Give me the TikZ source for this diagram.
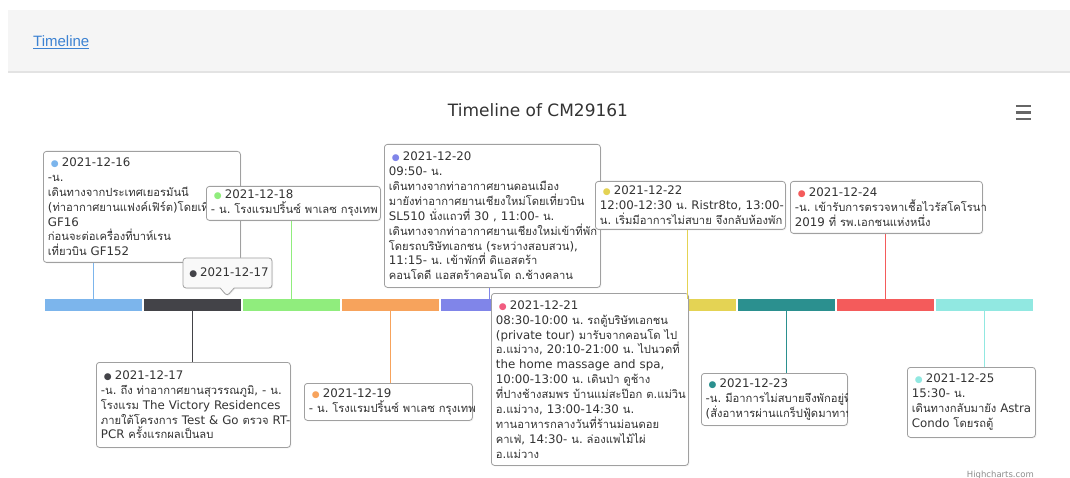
\documentclass[tikz,border=0pt]{standalone}
\usepackage{fontspec}
\usetikzlibrary{shapes.callouts,shadows}
\setmainfont{DejaVu Sans}
\newfontfamily\latinfont{DejaVu Sans}
\newfontfamily\thaifont[Script=Thai,Scale=0.95]{Loma}
\newfontfamily\pagefont{Liberation Sans}

% switch to the Thai font automatically for runs of Thai characters
\XeTeXinterchartokenstate=1
\newXeTeXintercharclass\thaiclass
\newcount\thaicode
\thaicode="0E00
\loop
  \XeTeXcharclass\thaicode=\thaiclass
\ifnum\thaicode<"0E7F
  \advance\thaicode by 1
\repeat
\XeTeXinterchartoks 0 \thaiclass = {\thaifont}
\XeTeXinterchartoks 4095 \thaiclass = {\thaifont}
\XeTeXinterchartoks \thaiclass 0 = {\latinfont}
\XeTeXinterchartoks \thaiclass 4095 = {\latinfont}

\definecolor{c1}{HTML}{7CB5EC}
\definecolor{c2}{HTML}{434348}
\definecolor{c3}{HTML}{90ED7D}
\definecolor{c4}{HTML}{F7A35C}
\definecolor{c5}{HTML}{8085E9}
\definecolor{c6}{HTML}{F15C80}
\definecolor{c7}{HTML}{E4D354}
\definecolor{c8}{HTML}{2B908F}
\definecolor{c9}{HTML}{F45B5B}
\definecolor{c10}{HTML}{91E8E1}
\definecolor{ink}{HTML}{333333}
\definecolor{headbg}{HTML}{F5F5F5}
\definecolor{headrule}{HTML}{E3E3E3}
\definecolor{linkblue}{HTML}{3C82D2}
\definecolor{framegray}{HTML}{A0A0A0}
\definecolor{tipbg}{HTML}{F9F9F9}

% coloured bullet before each date
\newcommand\pdot[1]{\hspace*{3pt}{\latinfont\fontsize{9}{9}\selectfont\textcolor{#1}{●}}\hspace{3pt}}

\tikzset{
  segbar/.style={fill=#1, draw=none, inner sep=0pt, minimum height=12pt,
    minimum width=97pt, anchor=north west},
  link/.style={draw=#1, line width=1pt},
  boxtext/.style={anchor=north west, inner xsep=4.5pt, inner ysep=0pt,
    align=left, text=ink,
    font=\latinfont\fontsize{11.8}{14.9}\selectfont,
    execute at begin node=\frenchspacing},
  box/.style={boxtext, draw=framegray, fill=white, rounded corners=3pt,
    line width=0.8pt,
    drop shadow={shadow xshift=1pt, shadow yshift=-1pt, opacity=0.12}},
  menubar/.style={line width=2.2pt, draw=black!60},
}

\begin{document}
\begin{tikzpicture}[x=1pt,y=-1pt]
\useasboundingbox (0,0) rectangle (1070,478);
\fill[white] (0,0) rectangle (1070,478);

% page header
\fill[headbg] (8,10) rectangle (1070,72);
\draw[headrule, line width=1.5pt] (8,72) -- (1070,72);
\node[anchor=base west, inner sep=0pt, text=linkblue,
  font=\pagefont\fontsize{15}{18}\selectfont] (navlink) at (33,47) {\underline{Timeline}};

% chart title and menu
\node[text=ink, font=\latinfont\fontsize{17}{20}\selectfont] (title) at (538,110) {Timeline of CM29161};
\node[minimum width=15pt, minimum height=12pt, inner sep=0pt] (menu) at (1023.5,112.5) {};
\draw[menubar] (menu.north west) -- (menu.north east);
\draw[menubar] (menu.west) -- (menu.east);
\draw[menubar] (menu.south west) -- (menu.south east);

% timeline bar
\foreach \i in {1,...,10}
  \node[segbar=c\i] (s\i) at ({45+(\i-1)*99},299) {};

% labels above the bar
\node[box, text width=188pt, minimum height=111pt] (d16) at (43,151) {%
\pdot{c1}2021-12-16\\
-น.\\
เดินทางจากประเทศเยอรมันนี\\
(ท่าอากาศยานแฟงค์เฟิร์ต)โดยเที่ยวบิน\\
GF16\\
ก่อนจะต่อเครื่องที่บาห์เรน\\
\mbox{เที่ยวบิน GF152}};

\node[box, text width=165pt, minimum height=34pt] (d18) at (206,186) {%
\pdot{c3}2021-12-18\\
\mbox{- น. โรงแรมปริ้นซ์ พาเลซ กรุงเทพ}};

\node[box, text width=207pt, minimum height=143pt] (d20) at (384,144) {%
\pdot{c5}2021-12-20\\
\mbox{09:50- น.}\\
เดินทางจากท่าอากาศยานดอนเมือง\\
มายังท่าอากาศยานเชียงใหม่โดยเที่ยวบิน\\
\mbox{SL510 นั่งแถวที่ 30 , 11:00- น.}\\
เดินทางจากท่าอากาศยานเชียงใหม่เข้าที่พัก\\
\mbox{โดยรถบริษัทเอกชน (ระหว่างสอบสวน),}\\
\mbox{11:15- น. เข้าพักที่ ดิแอสตร้า}\\
\mbox{คอนโดดี แอสตร้าคอนโด ถ.ช้างคลาน}};

\node[box, text width=181pt, minimum height=48pt] (d22) at (595,181) {%
\pdot{c7}2021-12-22\\
\mbox{12:00-12:30 น. Ristr8to, 13:00-}\\
\mbox{น. เริ่มมีอาการไม่สบาย จึงกลับห้องพัก}};

\node[box, text width=183pt, minimum height=52pt] (d24) at (790,181) {%
\pdot{c9}2021-12-24\\
\mbox{-น. เข้ารับการตรวจหาเชื้อไวรัสโคโรนา}\\
\mbox{2019 ที่ รพ.เอกชนแห่งหนึ่ง}};

% labels below the bar
\node[box, text width=185pt, minimum height=85pt] (d17) at (96,362) {%
\pdot{c2}2021-12-17\\
\mbox{-น. ถึง ท่าอากาศยานสุวรรณภูมิ, - น.}\\
\mbox{โรงแรม The Victory Residences}\\
\mbox{ภายใต้โครงการ Test \& Go ตรวจ RT-}\\
\mbox{PCR ครั้งแรกผลเป็นลบ}};

\node[box, text width=159pt, minimum height=37pt] (d19) at (304,383) {%
\pdot{c4}2021-12-19\\
\mbox{- น. โรงแรมปริ้นซ์ พาเลซ กรุงเทพ}};

\node[box, text width=188pt, minimum height=172pt] (d21) at (491,293) {%
\pdot{c6}2021-12-21\\
\mbox{08:30-10:00 น. รถตู้บริษัทเอกชน}\\
\mbox{(private tour) มารับจากคอนโด ไป}\\
\mbox{อ.แม่วาง, 20:10-21:00 น. ไปนวดที่}\\
\mbox{the home massage and spa,}\\
\mbox{10:00-13:00 น. เดินป่า ดูช้าง}\\
\mbox{ที่ปางช้างสมพร บ้านแม่สะป๊อก ต.แม่วิน}\\
\mbox{อ.แม่วาง, 13:00-14:30 น.}\\
ทานอาหารกลางวันที่ร้านม่อนดอย\\
\mbox{คาเฟ่, 14:30- น. ล่องแพไม้ไผ่}\\
อ.แม่วาง};

\node[box, minimum width=146pt, minimum height=52pt] (d23) at (701,373) {};
\begin{scope}
  \clip[rounded corners=3pt] (d23.north west) rectangle (d23.south east);
  \node[boxtext, text width=137pt, minimum height=52pt] (t23) at (d23.north west) {%
\pdot{c8}2021-12-23\\
\mbox{-น. มีอาการไม่สบายจึงพักอยู่ที่พัก}\\
\mbox{(สั่งอาหารผ่านแกร็ปฟู้ดมาทาน)}};
\end{scope}

\node[box, text width=119pt, minimum height=70pt] (d25) at (907,367) {%
\pdot{c10}2021-12-25\\
\mbox{15:30- น.}\\
\mbox{เดินทางกลับมายัง Astra}\\
\mbox{Condo โดยรถตู้}};

% connectors from the bar to the labels
\draw[link=c1] (s1.north) -- (s1.north |- d16.south);
\draw[link=c2] (s2.south) -- (s2.south |- d17.north);
\draw[link=c3] (s3.north) -- (s3.north |- d18.south);
\draw[link=c4] (s4.south) -- (s4.south |- d19.north);
\draw[link=c5] (s5.north) -- (s5.north |- d20.south);
\draw[link=c7] (s7.north) -- (s7.north |- d22.south);
\draw[link=c8] (s8.south) -- (s8.south |- d23.north);
\draw[link=c9] (s9.north) -- (s9.north |- d24.south);
\draw[link=c10] (s10.south) -- (s10.south |- d25.north);

% hover tooltip
\node[rectangle callout, callout absolute pointer={(227,296)},
  callout pointer width=14pt, draw=framegray, line width=0.8pt, fill=tipbg,
  rounded corners=3pt, minimum width=89pt, minimum height=30pt, inner sep=0pt,
  text=ink, font=\latinfont\fontsize{11.8}{14}\selectfont,
  drop shadow={shadow xshift=1pt, shadow yshift=-1pt, opacity=0.12}] (tip) at (227.5,273)
  {\pdot{c2}2021-12-17};

% credit
\node[anchor=base east, inner sep=0pt, text=black!45,
  font=\latinfont\fontsize{8.5}{10}\selectfont] (credit) at (1034,477) {Highcharts.com};
\end{tikzpicture}
\end{document}
